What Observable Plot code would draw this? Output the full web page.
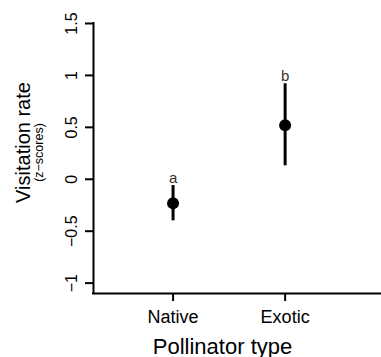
<!DOCTYPE html>
<html><head><meta charset="utf-8">
<script src="https://cdn.jsdelivr.net/npm/d3@7"></script>
<script src="https://cdn.jsdelivr.net/npm/@observablehq/plot@0.6"></script>
<style>html,body{margin:0;padding:0;background:#fff} svg{display:block}</style>
</head><body><div id="chart"></div>
<script>
const types = ["Native", "Exotic"];
const positions = [1, 2];
const means = [-0.23, 0.52];
const lower = [-0.40, 0.13];
const upper = [-0.06, 0.92];
const letters = ["a", "b"];
const yTicks = [-1, -0.5, 0, 0.5, 1, 1.5];
const yTickLabels = ["\u22121", "\u22120.5", "0", "0.5", "1", "1.5"];
const xTitle = "Pollinator type";
const yTitle = "Visitation rate";
const ySubTitle = "(z\u2212scores)";

const data = types.map((t, i) => ({type: t, x: positions[i], mean: means[i], lo: lower[i], hi: upper[i], letter: letters[i]}));
const yLab = yTicks.map((v, i) => ({v, label: yTickLabels[i]}));
const font = "'Liberation Sans', Arial, sans-serif";

const chart = Plot.plot({
  width: 381, height: 357,
  marginLeft: 93, marginRight: 0, marginTop: 23, marginBottom: 64,
  style: {fontFamily: font, background: "#fff", color: "#000", overflow: "visible"},
  x: {domain: [0.29, 2.86]},
  y: {domain: [-1.1, 1.5]},
  marks: [
    Plot.ruleX([0.29], {stroke: "#000", strokeWidth: 2, strokeLinecap: "square"}),
    Plot.ruleY([-1.1], {stroke: "#000", strokeWidth: 2, strokeLinecap: "square"}),
    Plot.axisY({ticks: yTicks, tickSize: 8, tickFormat: () => "", label: null, strokeWidth: 2}),
    Plot.text(yLab, {y: "v", text: "label", frameAnchor: "left", dx: -22, rotate: -90, textAnchor: "middle", lineAnchor: "middle", fontSize: 16, fill: "#000"}),
    Plot.axisX({ticks: positions, tickFormat: d => types[positions.indexOf(d)], tickSize: 8, tickPadding: 9, fontSize: 18, label: null, strokeWidth: 2}),
    Plot.text([xTitle], {text: d => d, frameAnchor: "bottom", dx: -15, dy: 53, textAnchor: "middle", lineAnchor: "middle", fontSize: 22, fill: "#000"}),
    Plot.text([yTitle], {text: d => d, frameAnchor: "left", dx: -70, dy: -16, rotate: -90, textAnchor: "middle", lineAnchor: "middle", fontSize: 20, fill: "#000"}),
    Plot.text([ySubTitle], {text: d => d, frameAnchor: "left", dx: -55, dy: -6, rotate: -90, textAnchor: "middle", lineAnchor: "middle", fontSize: 12.5, fill: "#000"}),
    Plot.ruleX(data, {x: "x", y1: "lo", y2: "hi", stroke: "#000", strokeWidth: 3}),
    Plot.dot(data, {x: "x", y: "mean", r: 6, fill: "#000", stroke: "none"}),
    Plot.text(data, {x: "x", y: "hi", text: "letter", lineAnchor: "bottom", dy: -3, fontSize: 15, fill: "#333"})
  ]
});
document.getElementById("chart").append(chart);
</script>
</body></html>
